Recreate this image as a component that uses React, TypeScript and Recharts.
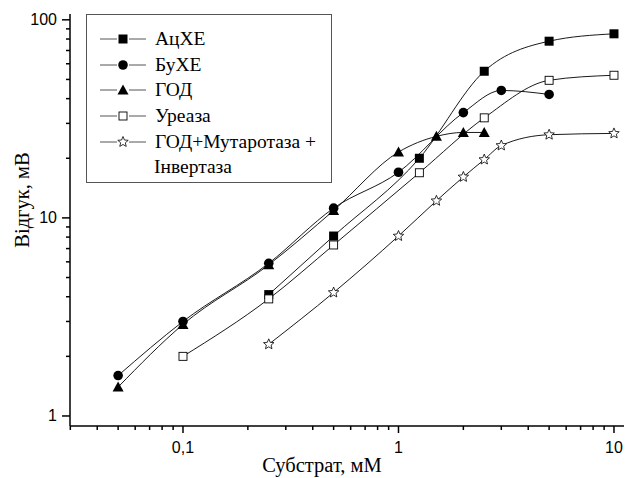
import { LineChart, Line, XAxis, YAxis, Legend } from "recharts";

// concentrations (mM) and responses (mV)
const acheX = [0.25, 0.5, 1.25, 2.5, 5, 10];
const acheY = [4.1, 8.1, 20, 55, 78, 85];

const buheX = [0.05, 0.1, 0.25, 0.5, 1, 2, 3, 5];
const buheY = [1.6, 3.0, 5.9, 11.2, 17, 34, 44, 42];

const godX = [0.05, 0.1, 0.25, 0.5, 1, 1.5, 2, 2.5];
const godY = [1.4, 2.9, 5.8, 10.9, 21.5, 25.8, 27, 27];

const ureaseX = [0.1, 0.25, 0.5, 1.25, 2.5, 5, 10];
const ureaseY = [2.0, 3.9, 7.3, 16.9, 32, 49.5, 52.5];

const mixX = [0.25, 0.5, 1, 1.5, 2, 2.5, 3, 5, 10];
const mixY = [2.3, 4.2, 8.1, 12.2, 16.1, 19.7, 23.2, 26.3, 26.7];

const xTicks = [
  0.03, 0.04, 0.05, 0.06, 0.07, 0.08, 0.09, 0.1,
  0.2, 0.3, 0.4, 0.5, 0.6, 0.7, 0.8, 0.9, 1,
  2, 3, 4, 5, 6, 7, 8, 9, 10,
];
const xMajor = [0.1, 1, 10];
const xLabels: Record<string, string> = { "0.1": "0,1", "1": "1", "10": "10" };

const yTicks = [
  1, 2, 3, 4, 5, 6, 7, 8, 9, 10,
  20, 30, 40, 50, 60, 70, 80, 90, 100,
];
const yMajor = [1, 10, 100];

const SERIF = "'Liberation Serif', 'Times New Roman', serif";
const SANS = "'Liberation Sans', Arial, sans-serif";

const toPoints = (xs: number[], ys: number[]) => xs.map((x, i) => ({ x, y: ys[i] }));

type MarkerKind = "square" | "circle" | "triangle" | "openSquare" | "star";

const SERIES: { key: string; name: string; marker: MarkerKind; xs: number[]; ys: number[] }[] = [
  { key: "ache", name: "АцХЕ", marker: "square", xs: acheX, ys: acheY },
  { key: "buhe", name: "БуХЕ", marker: "circle", xs: buheX, ys: buheY },
  { key: "god", name: "ГОД", marker: "triangle", xs: godX, ys: godY },
  { key: "urease", name: "Уреаза", marker: "openSquare", xs: ureaseX, ys: ureaseY },
  { key: "mix", name: "ГОД+Мутаротаза +", marker: "star", xs: mixX, ys: mixY },
];

function starPath(cx: number, cy: number, r: number) {
  const inner = r * 0.45;
  let d = "";
  for (let i = 0; i < 10; i++) {
    const rad = i % 2 === 0 ? r : inner;
    const a = -Math.PI / 2 + (i * Math.PI) / 5;
    d += (i === 0 ? "M" : "L") + (cx + rad * Math.cos(a)).toFixed(2) + "," + (cy + rad * Math.sin(a)).toFixed(2);
  }
  return d + "Z";
}

function Marker({ kind, cx, cy }: { kind: MarkerKind; cx: number; cy: number }) {
  switch (kind) {
    case "square":
      return <rect x={cx - 4.5} y={cy - 4.5} width={9} height={9} fill="#000" />;
    case "circle":
      return <circle cx={cx} cy={cy} r={4.8} fill="#000" />;
    case "triangle":
      return <path d={`M${cx},${cy - 5.5}L${cx + 5.5},${cy + 4.5}L${cx - 5.5},${cy + 4.5}Z`} fill="#000" />;
    case "openSquare":
      return <rect x={cx - 4} y={cy - 4} width={8} height={8} fill="#fff" stroke="#000" strokeWidth={0.9} />;
    case "star":
      return <path d={starPath(cx, cy, 5.5)} fill="#fff" stroke="#000" strokeWidth={0.8} />;
  }
}

const makeDot = (kind: MarkerKind) => (props: any) => {
  if (props.cx == null || props.cy == null) return <g key={props.key} />;
  return (
    <g key={props.key}>
      <Marker kind={kind} cx={props.cx} cy={props.cy} />
    </g>
  );
};

const XTick = ({ x, y, payload }: any) => {
  const major = xMajor.includes(payload.value);
  return (
    <g>
      <line x1={x} x2={x} y1={y} y2={y + (major ? 7 : 4)} stroke="#000" strokeWidth={1.5} />
      {major && (
        <text x={x} y={y + 27} textAnchor="middle" fontFamily={SANS} fontSize={16} fill="#000">
          {xLabels[String(payload.value)]}
        </text>
      )}
    </g>
  );
};

const YTick = ({ x, y, payload }: any) => {
  const major = yMajor.includes(payload.value);
  return (
    <g>
      <line x1={x} x2={x - (major ? 8 : 4)} y1={y} y2={y} stroke="#000" strokeWidth={1.5} />
      {major && (
        <text x={x - 13} y={y + 5.5} textAnchor="end" fontFamily={SANS} fontSize={16} fill="#000">
          {payload.value}
        </text>
      )}
    </g>
  );
};

const LegendBox = () => (
  <div
    style={{
      width: 246,
      height: 169,
      boxSizing: "border-box",
      border: "1.5px solid #555",
      background: "#fff",
      fontFamily: SERIF,
      fontSize: 19.5,
      color: "#000",
      paddingTop: 11,
    }}
  >
    {SERIES.map((s) => (
      <div key={s.key} style={{ display: "flex", alignItems: "center", height: 25.7 }}>
        <svg width={66} height={20} style={{ marginLeft: 10, flexShrink: 0 }}>
          <line x1={3} x2={20} y1={10} y2={10} stroke="#555" strokeWidth={1} />
          <line x1={32} x2={49} y1={10} y2={10} stroke="#555" strokeWidth={1} />
          <Marker kind={s.marker} cx={26} cy={10} />
        </svg>
        <span style={{ marginLeft: -8, whiteSpace: "nowrap" }}>{s.name}</span>
      </div>
    ))}
    <div style={{ height: 25.7, lineHeight: "25.7px", paddingLeft: 67 }}>Інвертаза</div>
  </div>
);

export default function App() {
  return (
    <div style={{ position: "absolute", left: 0, top: 0, width: 625, height: 478, background: "#fff" }}>
      <LineChart width={625} height={478} margin={{ top: 14, right: 1, bottom: 0, left: 0 }}>
        <XAxis
          type="number"
          dataKey="x"
          scale="log"
          domain={[0.0299, 11.13]}
          allowDataOverflow
          ticks={xTicks}
          interval={0}
          tick={<XTick />}
          tickLine={false}
          tickSize={0}
          tickMargin={0}
          height={52}
          axisLine={{ stroke: "#000", strokeWidth: 1.5 }}
        />
        <YAxis
          type="number"
          dataKey="y"
          scale="log"
          domain={[0.89, 107]}
          allowDataOverflow
          ticks={yTicks}
          interval={0}
          tick={<YTick />}
          tickLine={false}
          tickSize={0}
          tickMargin={0}
          width={70}
          axisLine={{ stroke: "#000", strokeWidth: 1.5 }}
        />
        <Legend
          layout="vertical"
          align="center"
          verticalAlign="middle"
          wrapperStyle={{ left: 86, top: 14, width: 246, height: 169 }}
          content={() => <LegendBox />}
        />
        {SERIES.map((s) => (
          <Line
            key={s.key}
            data={toPoints(s.xs, s.ys)}
            dataKey="y"
            name={s.name}
            type="monotone"
            stroke="#000"
            strokeWidth={0.9}
            dot={makeDot(s.marker)}
            activeDot={false}
            isAnimationActive={false}
          />
        ))}
        <text
          x={22}
          y={200}
          transform="rotate(-90 22 200)"
          textAnchor="middle"
          dominantBaseline="central"
          fontFamily={SERIF}
          fontSize={20.5}
          fill="#000"
        >
          Відгук, мВ
        </text>
        <text x={322} y={472} textAnchor="middle" fontFamily={SERIF} fontSize={20.5} fill="#000">
          Субстрат, мМ
        </text>
      </LineChart>
    </div>
  );
}
